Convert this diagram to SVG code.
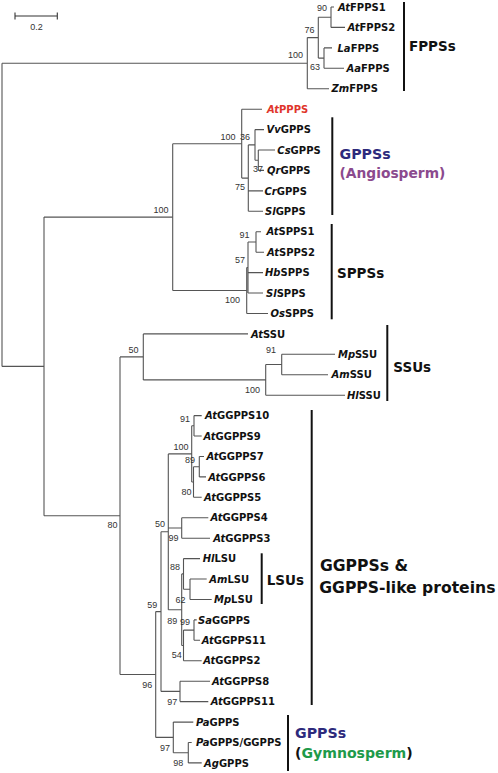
<svg xmlns="http://www.w3.org/2000/svg" width="498" height="773" viewBox="0 0 498 773">
<style>
.t{font-family:"DejaVu Sans","Liberation Sans",sans-serif;font-weight:bold;font-size:10px;fill:#111}
.i{font-style:italic}
.bs{font-family:"Liberation Sans",Arial,sans-serif;font-size:9px;fill:#333;text-anchor:end}
.c{font-family:"DejaVu Sans","Liberation Sans",sans-serif;font-weight:bold;font-size:13.5px;fill:#111}
.e{stroke:#555;stroke-width:1.1;fill:none}
.bar{stroke:#111;stroke-width:2}
.navy{fill:#2d2a7c}
</style>
<rect width="498" height="773" fill="#fff"/>
<g id="scale">
<path d="M15 16H57.3M15 12.5V19.5M57.3 12.5V19.5" stroke="#333" stroke-width="1.1" fill="none"/>
<text x="36.5" y="30" font-family="Liberation Sans,Arial,sans-serif" font-size="9" fill="#333" text-anchor="middle">0.2</text>
</g>
<g id="connectors" class="e">
<path d="M2 63.2H307.3M307.3 37.6V88.7M307.3 37.6H318.3M307.3 88.7H329M318.3 17.2V58.1M318.3 17.2H331M318.3 58.1H324M331 7V27.4M331 7H334M331 27.4H345M324 47.9V68.3M324 47.9H332M324 68.3H344"/>
<path d="M2 63.2V366.4M2 366.4H44M44 217.1V515.7M44 217.1H172.7M44 515.7H120"/>
<path d="M172.7 143.7V290.5M172.7 143.7H241.7M172.7 290.5H246.7"/>
<path d="M241.7 109.2V178.1M241.7 109.2H262M241.7 178.1H248.3M248.3 144.9V211.3M248.3 144.9H255M248.3 190.9H263M248.3 211.3H263M255 129.6V160.2M255 129.6H264M255 160.2H258.3M258.3 150V170.4M258.3 150H275M258.3 170.4H264"/>
<path d="M246.7 267.5V313.5M246.7 267.5H248M246.7 313.5H268M248 242V293M248 242H256M248 272.6H263M248 293H263M256 231.7V252.2M256 231.7H261M256 252.2H264"/>
<path d="M120 356.9V674.5M120 356.9H143.3M120 674.5H155.7"/>
<path d="M143.3 333.9V379.9M143.3 333.9H248M143.3 379.9H265.7M265.7 364.5V395.2M265.7 364.5H281.7M265.7 395.2H345M281.7 354.3V374.7M281.7 354.3H335M281.7 374.7H328"/>
<path d="M155.7 611.6V737.4M155.7 611.6H161M155.7 737.4H173.3M161 531.8V691.4M161 531.8H168.3M161 691.4H180M168.3 453.9V609.7M168.3 453.9H191.7M168.3 528H181.7M168.3 609.7H181.7M191.7 425.8V482M191.7 425.8H194M191.7 482H193.5M194 415.6V436M194 415.6H201.7M194 436H201.7M193.5 466.7V497.3M193.5 466.7H199.3M193.5 497.3H201.7M199.3 456.5V476.9M199.3 456.5H204M199.3 476.9H206M181.7 517.8V538.2M181.7 517.8H208.3M181.7 538.2H210"/>
<path d="M181.7 573.9V645.5M181.7 573.9H183.5M181.7 645.5H183.5M183.5 558.6V589.3M183.5 558.6H200M183.5 589.3H190M190 579V599.5M190 579H206.7M190 599.5H211.7M183.5 630.1V660.8M183.5 630.1H194M183.5 660.8H201.7M194 619.9V640.3M194 619.9H196.7M194 640.3H200M180 681.2V701.6M180 681.2H210M180 701.6H208.3M173.3 722.1V752.7M173.3 722.1H193.3M173.3 752.7H188.3M188.3 742.5V762.9M188.3 742.5H191.7M188.3 762.9H201.7"/>
</g>
<g id="bootstrap" class="bs">
<text x="327" y="10.5">90</text>
<text x="314.5" y="32.5">76</text>
<text x="303" y="58">100</text>
<text x="320" y="70">63</text>
<text x="235.5" y="140">100</text>
<text x="250" y="140">36</text>
<text x="263" y="172">37</text>
<text x="245" y="190">75</text>
<text x="168.5" y="212.5">100</text>
<text x="249.5" y="238">91</text>
<text x="245" y="263">57</text>
<text x="240" y="303">100</text>
<text x="138.5" y="352.5">50</text>
<text x="276" y="353">91</text>
<text x="260" y="392.5">100</text>
<text x="190" y="421.5">91</text>
<text x="188.5" y="450">100</text>
<text x="195" y="463">89</text>
<text x="191.5" y="495">80</text>
<text x="117.5" y="528">80</text>
<text x="165" y="527">50</text>
<text x="178.5" y="541">99</text>
<text x="180" y="570">88</text>
<text x="185.5" y="602.5">62</text>
<text x="157.3" y="607.5">59</text>
<text x="177.3" y="624">89</text>
<text x="190" y="625">99</text>
<text x="181.7" y="658">54</text>
<text x="152.3" y="687.5">96</text>
<text x="177.3" y="705">97</text>
<text x="170" y="750.5">97</text>
<text x="183.3" y="766">98</text>
</g>
<g id="leaf-AtFPPS1"><text class="t" x="338" y="10.6"><tspan class="i">At</tspan>FPPS1</text></g>
<g id="leaf-AtFPPS2"><text class="t" x="347.5" y="31"><tspan class="i">At</tspan>FPPS2</text></g>
<g id="leaf-LaFPPS"><text class="t" x="337.5" y="51.5"><tspan class="i">La</tspan>FPPS</text></g>
<g id="leaf-AaFPPS"><text class="t" x="346.5" y="71.9"><tspan class="i">Aa</tspan>FPPS</text></g>
<g id="leaf-ZmFPPS"><text class="t" x="331.5" y="92.3"><tspan class="i">Zm</tspan>FPPS</text></g>
<g id="leaf-AtPPPS"><text class="t" x="267" y="112.8" fill="#e0352b" style="fill:#e0352b"><tspan class="i">At</tspan>PPPS</text></g>
<g id="leaf-VvGPPS"><text class="t" x="266.5" y="133.2"><tspan class="i">Vv</tspan>GPPS</text></g>
<g id="leaf-CsGPPS"><text class="t" x="277.3" y="153.6"><tspan class="i">Cs</tspan>GPPS</text></g>
<g id="leaf-QrGPPS"><text class="t" x="267" y="174"><tspan class="i">Qr</tspan>GPPS</text></g>
<g id="leaf-CrGPPS"><text class="t" x="264.5" y="194.5"><tspan class="i">Cr</tspan>GPPS</text></g>
<g id="leaf-SlGPPS"><text class="t" x="265" y="214.9"><tspan class="i">Sl</tspan>GPPS</text></g>
<g id="leaf-AtSPPS1"><text class="t" x="266.5" y="235.3"><tspan class="i">At</tspan>SPPS1</text></g>
<g id="leaf-AtSPPS2"><text class="t" x="267" y="255.8"><tspan class="i">At</tspan>SPPS2</text></g>
<g id="leaf-HbSPPS"><text class="t" x="265" y="276.2"><tspan class="i">Hb</tspan>SPPS</text></g>
<g id="leaf-SlSPPS"><text class="t" x="266" y="296.6"><tspan class="i">Sl</tspan>SPPS</text></g>
<g id="leaf-OsSPPS"><text class="t" x="270.5" y="317.1"><tspan class="i">Os</tspan>SPPS</text></g>
<g id="leaf-AtSSU"><text class="t" x="251" y="337.5"><tspan class="i">At</tspan>SSU</text></g>
<g id="leaf-MpSSU"><text class="t" x="338" y="357.9"><tspan class="i">Mp</tspan>SSU</text></g>
<g id="leaf-AmSSU"><text class="t" x="331.5" y="378.3"><tspan class="i">Am</tspan>SSU</text></g>
<g id="leaf-HlSSU"><text class="t" x="347" y="398.8"><tspan class="i">Hl</tspan>SSU</text></g>
<g id="leaf-AtGGPPS10"><text class="t" x="205" y="419.2"><tspan class="i">At</tspan>GGPPS10</text></g>
<g id="leaf-AtGGPPS9"><text class="t" x="203.5" y="439.6"><tspan class="i">At</tspan>GGPPS9</text></g>
<g id="leaf-AtGGPPS7"><text class="t" x="206.5" y="460.1"><tspan class="i">At</tspan>GGPPS7</text></g>
<g id="leaf-AtGGPPS6"><text class="t" x="208.3" y="480.5"><tspan class="i">At</tspan>GGPPS6</text></g>
<g id="leaf-AtGGPPS5"><text class="t" x="204" y="500.9"><tspan class="i">At</tspan>GGPPS5</text></g>
<g id="leaf-AtGGPPS4"><text class="t" x="210.5" y="521.4"><tspan class="i">At</tspan>GGPPS4</text></g>
<g id="leaf-AtGGPPS3"><text class="t" x="213.3" y="541.8"><tspan class="i">At</tspan>GGPPS3</text></g>
<g id="leaf-HlLSU"><text class="t" x="202.7" y="562.2"><tspan class="i">Hl</tspan>LSU</text></g>
<g id="leaf-AmLSU"><text class="t" x="209.3" y="582.6"><tspan class="i">Am</tspan>LSU</text></g>
<g id="leaf-MpLSU"><text class="t" x="214" y="603.1"><tspan class="i">Mp</tspan>LSU</text></g>
<g id="leaf-SaGGPPS"><text class="t" x="198" y="623.5"><tspan class="i">Sa</tspan>GGPPS</text></g>
<g id="leaf-AtGGPPS11a"><text class="t" x="201.7" y="643.9"><tspan class="i">At</tspan>GGPPS11</text></g>
<g id="leaf-AtGGPPS2"><text class="t" x="203.3" y="664.4"><tspan class="i">At</tspan>GGPPS2</text></g>
<g id="leaf-AtGGPPS8"><text class="t" x="212" y="684.8"><tspan class="i">At</tspan>GGPPS8</text></g>
<g id="leaf-AtGGPPS11b"><text class="t" x="210.7" y="705.2"><tspan class="i">At</tspan>GGPPS11</text></g>
<g id="leaf-PaGPPS"><text class="t" x="196" y="725.7"><tspan class="i">Pa</tspan>GPPS</text></g>
<g id="leaf-PaGPPS-GGPPS"><text class="t" x="196" y="746.1"><tspan class="i">Pa</tspan>GPPS/GGPPS</text></g>
<g id="leaf-AgGPPS"><text class="t" x="204" y="766.5"><tspan class="i">Ag</tspan>GPPS</text></g>
<g id="clade-FPPS"><path class="bar" d="M404 2V91"/><text class="c" x="409" y="50.6">FPPSs</text></g>
<g id="clade-GPPS-angio"><path class="bar" d="M332.3 117.3V215"/><text class="c navy" x="339.5" y="159" style="font-size:14.2px">GPPSs</text><text class="c" x="339.5" y="178.3" style="font-size:13.8px;fill:#8b4a8e">(Angiosperm)</text></g>
<g id="clade-SPPS"><path class="bar" d="M331.7 224V319.3"/><text class="c" x="337" y="278.3">SPPSs</text></g>
<g id="clade-SSU"><path class="bar" d="M387.3 325V401"/><text class="c" x="393.3" y="371.7">SSUs</text></g>
<g id="clade-LSU"><path class="bar" d="M261.7 553.3V604"/><text class="c" x="266.7" y="585">LSUs</text></g>
<g id="clade-GGPPS"><path class="bar" d="M311.7 410V705"/><text class="c" x="320" y="571.4" style="font-size:15.6px">GGPPSs &amp;</text><text class="c" x="319.3" y="592.8" style="font-size:15.6px">GGPPS-like proteins</text></g>
<g id="clade-GPPS-gymno"><path class="bar" d="M288 715V771"/><text class="c navy" x="295" y="738.3" style="font-size:14.2px">GPPSs</text><text class="c" x="295" y="758.3" style="font-size:14.1px">(<tspan style="fill:#1e9a4a">Gymnosperm</tspan>)</text></g>
</svg>
